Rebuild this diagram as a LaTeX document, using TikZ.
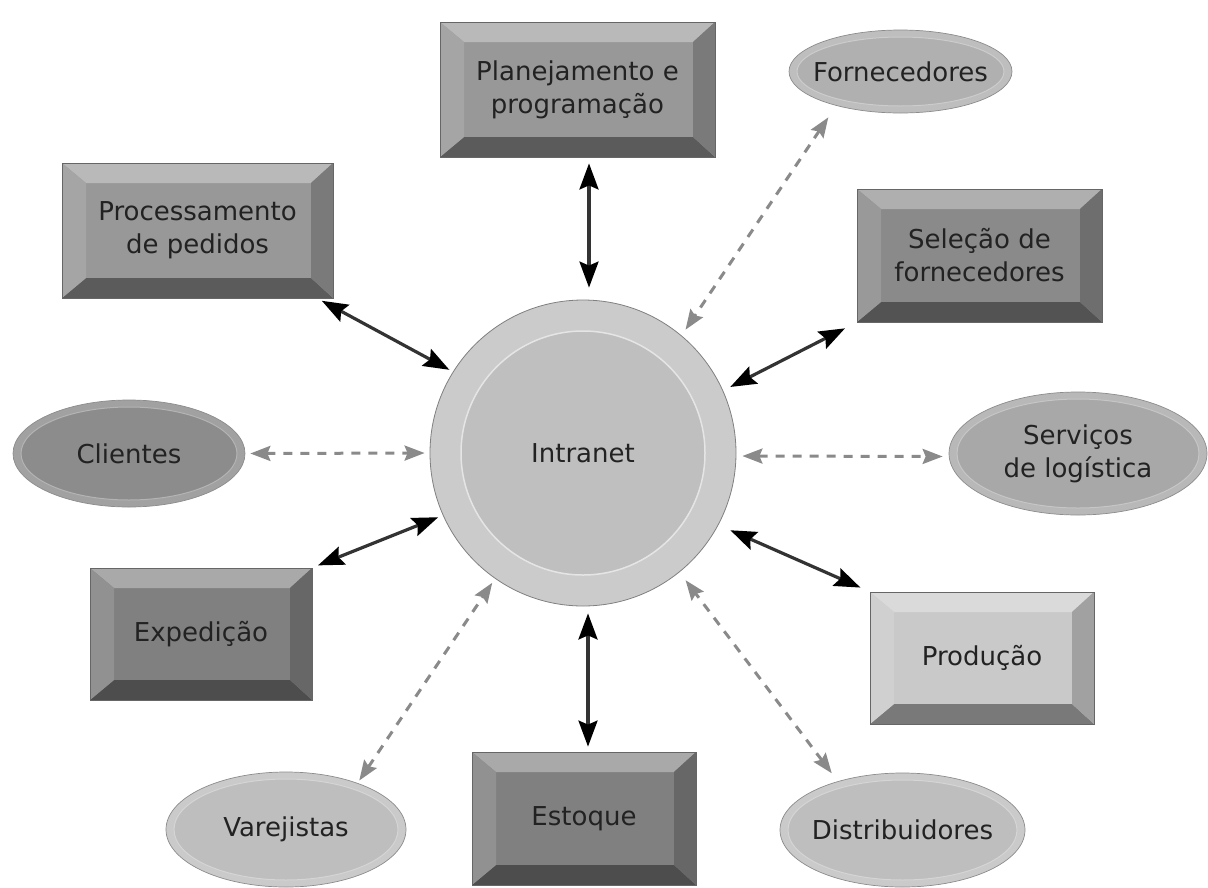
\documentclass[tikz,border=0pt]{standalone}
\usepackage{fontspec}
\setmainfont{DejaVu Sans}
\usetikzlibrary{shapes.geometric,arrows.meta,calc}
\definecolor{txt}{HTML}{222222}
\definecolor{linegray}{HTML}{8A8A8A}
\definecolor{boxA}{HTML}{989898}
\definecolor{boxB}{HTML}{8A8A8A}
\definecolor{boxC}{HTML}{808080}
\definecolor{boxD}{HTML}{C9C9C9}
\definecolor{ovA}{HTML}{8C8C8C}
\definecolor{ovB}{HTML}{B0B0B0}
\definecolor{ovC}{HTML}{A8A8A8}
\definecolor{ovD}{HTML}{BEBEBE}
\definecolor{ringout}{HTML}{CBCBCB}
\definecolor{ringin}{HTML}{BFBFBF}
\begin{document}
\begin{tikzpicture}[x=1pt,y=-1pt,
  font=\fontsize{26}{33}\selectfont, text=txt,
  bevbox/.style={rectangle, draw=black!60, line width=0.8pt, fill=#1,
    align=center, inner sep=0pt,
    path picture={
      \fill[#1!68!white] (path picture bounding box.north west) -- (path picture bounding box.north east)
        -- ([shift={(-22pt,-20pt)}]path picture bounding box.north east)
        -- ([shift={(24pt,-20pt)}]path picture bounding box.north west) -- cycle;
      \fill[#1!60!black] (path picture bounding box.south west) -- (path picture bounding box.south east)
        -- ([shift={(-22pt,20pt)}]path picture bounding box.south east)
        -- ([shift={(24pt,20pt)}]path picture bounding box.south west) -- cycle;
      \fill[#1!87!white] (path picture bounding box.north west)
        -- ([shift={(24pt,-20pt)}]path picture bounding box.north west)
        -- ([shift={(24pt,20pt)}]path picture bounding box.south west)
        -- (path picture bounding box.south west) -- cycle;
      \fill[#1!80!black] (path picture bounding box.north east)
        -- ([shift={(-22pt,-20pt)}]path picture bounding box.north east)
        -- ([shift={(-22pt,20pt)}]path picture bounding box.south east)
        -- (path picture bounding box.south east) -- cycle;
    }},
  ovalnode/.style={ellipse, draw=black!45, line width=0.7pt, fill=#1!82!white,
    align=center, inner sep=0pt,
    path picture={
      \filldraw[fill=#1, draw=#1!65!white, line width=1pt]
        let \p1=(path picture bounding box.north east), \p2=(path picture bounding box.center)
        in (\p2) ellipse [x radius=\x1-\x2-8pt, y radius=\y1-\y2-7pt];
    }},
  hub/.style={circle, draw=black!50, line width=0.8pt, fill=ringout, inner sep=0pt,
    path picture={
      \filldraw[fill=ringin, draw=white!60!ringin, line width=1.5pt]
        (path picture bounding box.center) circle [radius=122pt];
    }},
  solidarr/.style={{Stealth[length=26pt,width=19pt,inset=4pt,color=black]}-{Stealth[length=26pt,width=19pt,inset=4pt,color=black]},
    line width=3.2pt, draw=black!80},
  dasharr/.style={{Stealth[length=20pt,width=15pt,inset=3pt]}-{Stealth[length=20pt,width=15pt,inset=3pt]},
    line width=3pt, draw=linegray, dash pattern=on 9pt off 8pt}
]
\useasboundingbox (0,0) rectangle (1208,887);

% central hub
\node[hub, minimum size=306pt] (intr) at (583,453) {Intranet};

% beveled boxes
\node[bevbox=boxA, minimum width=275pt, minimum height=135pt] (plan) at (577.5,89.5) {Planejamento e\\programação};
\node[bevbox=boxA, minimum width=271pt, minimum height=135pt] (proc) at (197.5,230.5) {Processamento\\de pedidos};
\node[bevbox=boxB, minimum width=245pt, minimum height=133pt] (sel) at (979.5,255.5) {Seleção de\\fornecedores};
\node[bevbox=boxC, minimum width=222pt, minimum height=132pt] (exp) at (201,634) {Expedição};
\node[bevbox=boxC, minimum width=224pt, minimum height=133pt] (est) at (584,818.5) {Estoque};
\node[bevbox=boxD, minimum width=224pt, minimum height=132pt] (prod) at (982,658) {Produção};

% ovals
\node[ovalnode=ovB, minimum width=223pt, minimum height=83pt] (forn) at (900.5,71.5) {\makebox[0pt]{Fornecedores}};
\node[ovalnode=ovA, minimum width=232pt, minimum height=107pt] (cli) at (129,453.5) {\makebox[0pt]{Clientes}};
\node[ovalnode=ovC, minimum width=258pt, minimum height=123pt] (serv) at (1078,453.5) {Serviços\\de logística};
\node[ovalnode=ovD, minimum width=240pt, minimum height=115pt] (var) at (286,829.5) {\makebox[0pt]{Varejistas}};
\node[ovalnode=ovD, minimum width=245pt, minimum height=114pt] (dist) at (902.5,830) {\makebox[0pt]{Distribuidores}};

% solid connectors
\draw[solidarr, shorten <=6pt, shorten >=12pt] ([xshift=11.5pt]plan.south) -- ([xshift=6pt]intr.north);
\draw[solidarr, shorten <=7pt, shorten >=5pt] ([xshift=5pt]intr.south) -- ([xshift=4pt]est.north);
\draw[solidarr, shorten <=5pt, shorten >=4pt] ([xshift=-16pt]proc.south east) -- (intr.148);
\draw[solidarr, shorten <=13pt, shorten >=8pt] (sel.south west) -- (intr.24);
\draw[solidarr, shorten <=6pt, shorten >=5pt] (exp.north east) -- (intr.204);
\draw[solidarr, shorten <=10pt, shorten >=13pt] (prod.north west) -- (intr.-28);

% dashed connectors
\draw[dasharr, shorten <=5pt, shorten >=5pt] (cli.east) -- (intr.west);
\draw[dasharr, shorten <=6pt, shorten >=6pt] ([yshift=-3pt]intr.east) -- ([yshift=-3pt]serv.west);
\draw[dasharr, shorten <=14pt, shorten >=7pt] (forn.208) -- (intr.50);
\draw[dasharr, shorten <=3pt, shorten >=5pt] (var.33) -- (intr.235);
\draw[dasharr, shorten <=10pt, shorten >=10pt] (dist.143) -- (intr.-51);
\end{tikzpicture}
\end{document}
